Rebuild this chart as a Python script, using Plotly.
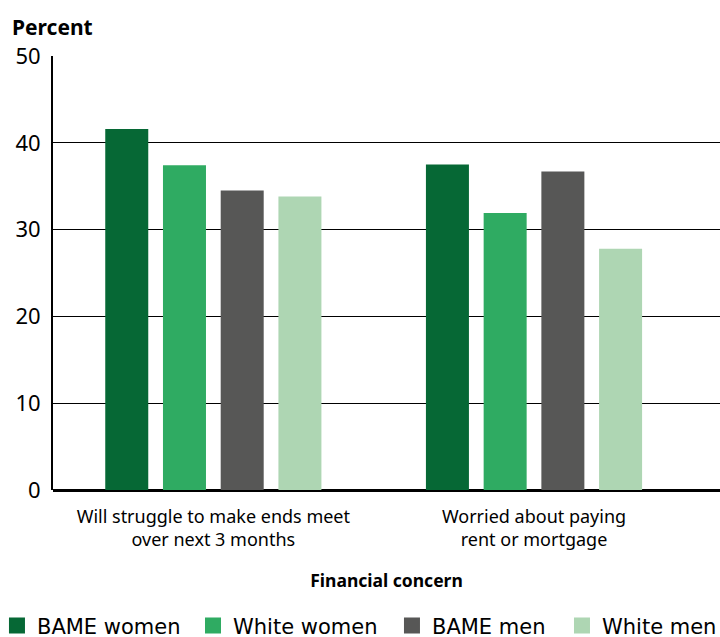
import plotly.graph_objects as go

categories = ["Will struggle to make ends meet<br>over next 3 months", "Worried about paying<br>rent or mortgage"]
series_names = ["BAME women", "White women", "BAME men", "White men"]
bame_women = [41.6, 37.5]
white_women = [37.4, 31.9]
bame_men = [34.5, 36.7]
white_men = [33.8, 27.8]
colors = ["#066835", "#2FAB62", "#575756", "#AED6B3"]

FONT = "Noto Sans"
LEG_FONT = "DejaVu Sans"
legend_ids = ["legend", "legend2", "legend3", "legend4"]
legend_x = [-0.084, 0.2099, 0.5082, 0.7631]

fig = go.Figure()
for name, vals, c in zip(series_names, [bame_women, white_women, bame_men, white_men], colors):
    fig.add_trace(go.Bar(x=categories, y=vals, name=name, showlegend=False,
                         marker=dict(color=c, line=dict(width=0))))
# legend entries with larger square symbols, each in its own legend box
for name, c, lid in zip(series_names, colors, legend_ids):
    fig.add_trace(go.Scatter(x=[None], y=[None], mode="markers", name=name, legend=lid,
                             marker=dict(symbol="square", size=18, color=c)))

legend_common = dict(orientation="h", xanchor="left", y=-0.313, yanchor="middle",
                     font=dict(size=21, family=LEG_FONT, color="black"), itemwidth=30,
                     bgcolor="rgba(0,0,0,0)")
layout_legends = {lid: dict(x=lx, **legend_common) for lid, lx in zip(legend_ids, legend_x)}

fig.update_layout(
    width=720, height=637,
    margin=dict(l=53, r=0, t=56, b=147, autoexpand=False),
    plot_bgcolor="white", paper_bgcolor="white",
    barmode="group", bargap=0.28, bargroupgap=0.255,
    font=dict(family=FONT, color="black"),
    showlegend=True,
    xaxis=dict(range=[-0.5, 1.58], showline=False, ticks="", showgrid=False,
               tickfont=dict(size=18, family=FONT), ticklabelstandoff=14,
               title=dict(text="<b>Financial concern</b>", font=dict(size=17.5, family=FONT), standoff=24)),
    yaxis=dict(range=[0, 50], dtick=10, showgrid=True, gridcolor="black", gridwidth=1.3,
               showline=True, linecolor="black", linewidth=2, zeroline=True, zerolinecolor="black", zerolinewidth=2.5,
               tickfont=dict(size=22, family=FONT), ticklabelstandoff=6),
    **layout_legends,
)
fig.add_annotation(text="<b>Percent</b>", xref="paper", yref="paper", x=-0.0645, y=1.0668,
                   xanchor="left", yanchor="middle", showarrow=False, font=dict(size=21, family=FONT))
fig.write_html("out.html", config={"displayModeBar": False},
               post_script="document.body.style.margin='0';document.body.style.overflow='hidden';")
